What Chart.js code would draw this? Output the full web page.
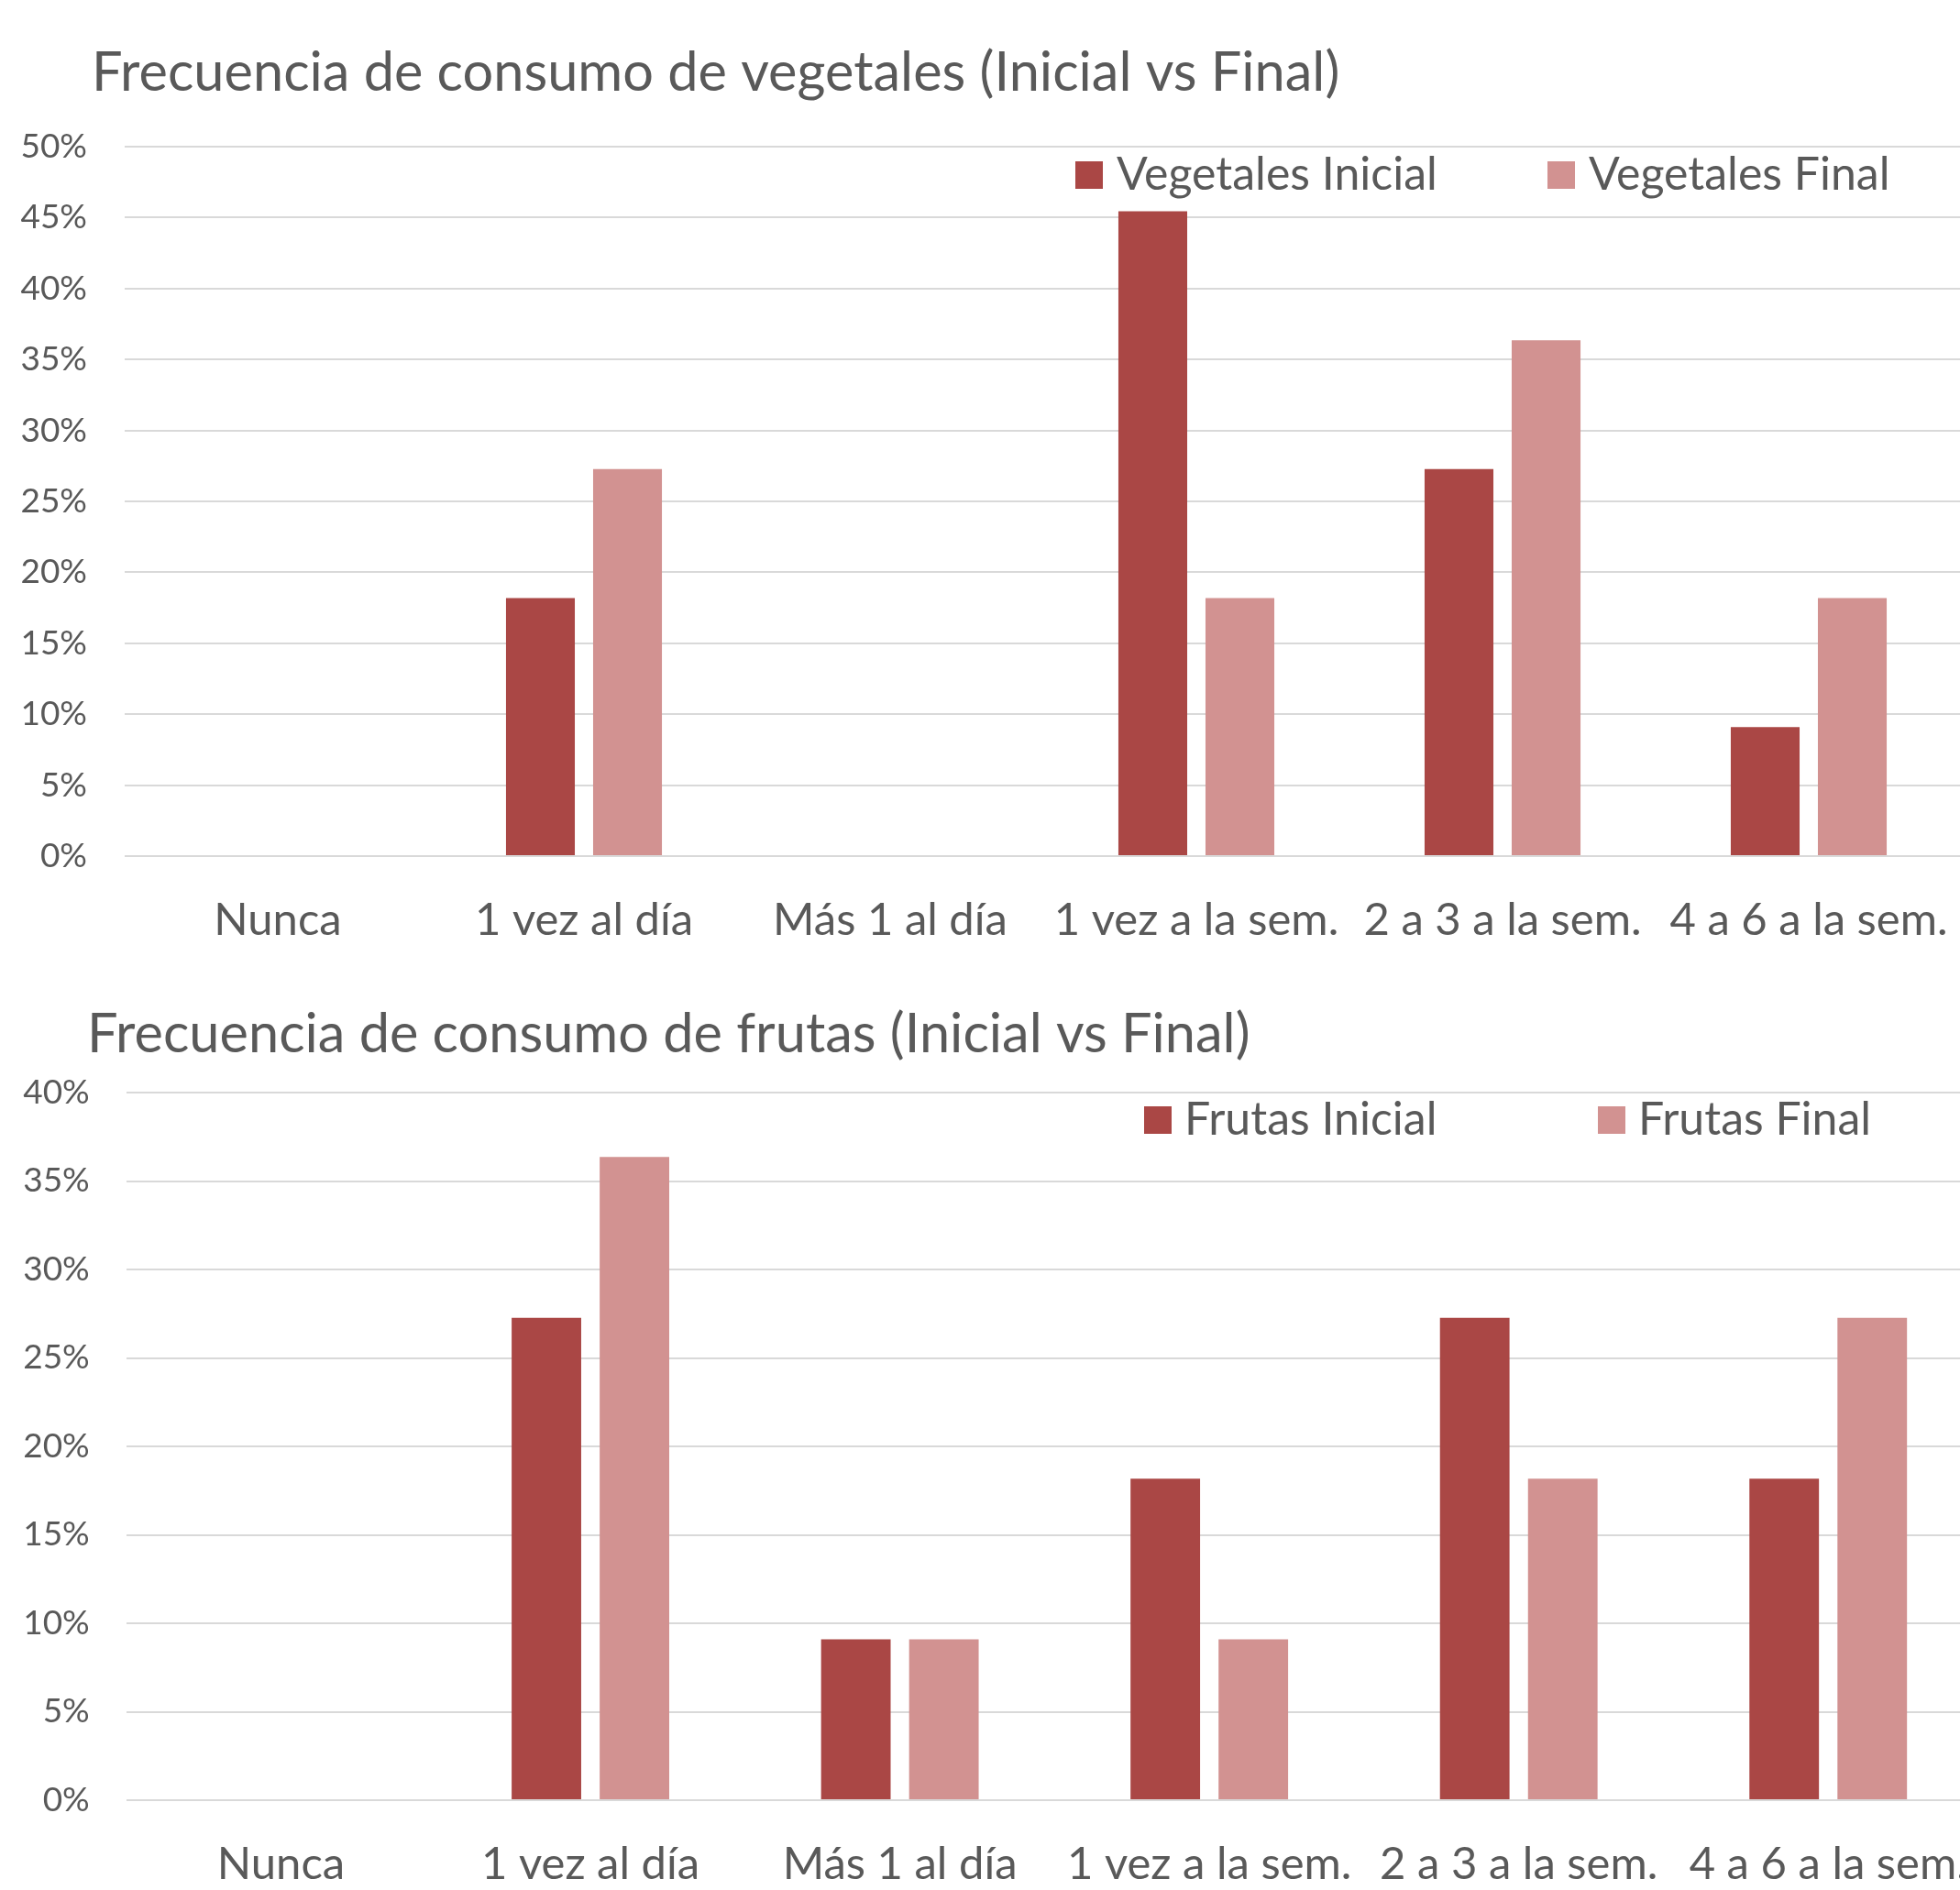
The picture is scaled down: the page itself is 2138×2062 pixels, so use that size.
<!DOCTYPE html>
<html>
<head>
<meta charset="utf-8">
<script src="https://cdn.jsdelivr.net/npm/chart.js@4.4.1/dist/chart.umd.min.js"></script>
<style>
  html, body { margin: 0; padding: 0; background: #fff; overflow: hidden; }
  #wrap { position: relative; width: 2138px; height: 2062px; overflow: hidden; }
  canvas { position: absolute; left: 0; }
</style>
</head>
<body>
<div id="wrap">
  <canvas id="chart-vegetales" width="2140" height="1034" style="top:0px"></canvas>
  <canvas id="chart-frutas" width="2163" height="1028" style="top:1034px"></canvas>
</div>
<script>
const categories = ['Nunca', '1 vez al día', 'Más 1 al día', '1 vez a la sem.', '2 a 3 a la sem.', '4 a 6 a la sem.']

const vegetalesInicial = [0, 0.1818, 0, 0.4545, 0.2727, 0.0909]
const vegetalesFinal = [0, 0.2727, 0, 0.1818, 0.3636, 0.1818]

const frutasInicial = [0, 0.2727, 0.0909, 0.1818, 0.2727, 0.1818]
const frutasFinal = [0, 0.3636, 0.0909, 0.0909, 0.1818, 0.2727]

const vegetalesMax = 0.5
const frutasMax = 0.4

const textColor = '#595959'
const gridColor = '#d9d9d9'
const inicialColor = '#aa4745'
const finalColor = '#d29291'

Chart.defaults.font.family = 'Lato'
Chart.defaults.color = textColor

// title + legend drawn where Excel puts them (title left of the axis, legend inside the plot)
const excelLabels = {
  id: 'excelLabels',
  afterDraw(chart, args, opts) {
    const ctx = chart.ctx
    ctx.save()
    ctx.fillStyle = textColor
    ctx.textBaseline = 'alphabetic'
    ctx.font = opts.titleSize + 'px Lato'
    ctx.fillText(opts.title, opts.titleX, opts.titleY)

    ctx.font = opts.legendSize + 'px Lato'
    ctx.textBaseline = 'middle'
    chart.data.datasets.forEach((ds, i) => {
      const x = opts.legendX[i]
      ctx.fillStyle = ds.backgroundColor
      ctx.fillRect(x, opts.legendY - 15, 30, 30)
      ctx.fillStyle = textColor
      ctx.fillText(ds.label, x + 30 + opts.legendGap, opts.legendY)
    })
    ctx.restore()
  }
}

function makeChart(id, title, names, inicial, final, max, box) {
  const ctx = document.getElementById(id).getContext('2d')
  return new Chart(ctx, {
    type: 'bar',
    data: {
      labels: categories,
      datasets: [
        { label: names[0], data: inicial, backgroundColor: inicialColor },
        { label: names[1], data: final, backgroundColor: finalColor }
      ]
    },
    plugins: [excelLabels],
    options: {
      responsive: false,
      animation: false,
      devicePixelRatio: 1,
      categoryPercentage: 0.569,
      barPercentage: 0.79,
      layout: { padding: { left: 0, right: 0, top: box.plotTop, bottom: 0 } },
      plugins: {
        legend: { display: false },
        tooltip: { enabled: false },
        title: { display: false },
        excelLabels: {
          title: title, titleX: box.titleX, titleY: box.titleY, titleSize: 59.5,
          legendX: box.legendX, legendY: box.legendY, legendGap: box.legendGap, legendSize: 50
        }
      },
      scales: {
        x: {
          grid: { display: false, drawTicks: false },
          border: { display: false },
          ticks: { color: textColor, font: { size: 49 }, padding: 41, maxRotation: 0, autoSkip: false },
          afterFit: (scale) => {
            scale.height = box.xHeight
            scale.paddingLeft = 0
            scale.paddingRight = 0
          }
        },
        y: {
          min: 0,
          max: max,
          border: { display: false },
          grid: { color: gridColor, lineWidth: 2, drawTicks: false },
          ticks: {
            stepSize: 0.05,
            color: textColor,
            font: { size: 37 },
            padding: box.tickPad,
            callback: (v) => Math.round(v * 100) + '%'
          },
          afterFit: (scale) => { scale.width = box.yWidth }
        }
      }
    }
  })
}

makeChart('chart-vegetales', 'Frecuencia de consumo de vegetales (Inicial vs Final)',
  ['Vegetales Inicial', 'Vegetales Final'], vegetalesInicial, vegetalesFinal, vegetalesMax,
  { yWidth: 136, tickPad: 41, plotTop: 160, titleX: 100, titleY: 99,
    xHeight: 100, legendX: [1173, 1688], legendY: 191, legendGap: 15 })

makeChart('chart-frutas', 'Frecuencia de consumo de frutas (Inicial vs Final)',
  ['Frutas Inicial', 'Frutas Final'], frutasInicial, frutasFinal, frutasMax,
  { yWidth: 137.75, tickPad: 40, plotTop: 158, titleX: 95, titleY: 114,
    xHeight: 98, legendX: [1248, 1743], legendY: 188, legendGap: 14 })
</script>
</body>
</html>
